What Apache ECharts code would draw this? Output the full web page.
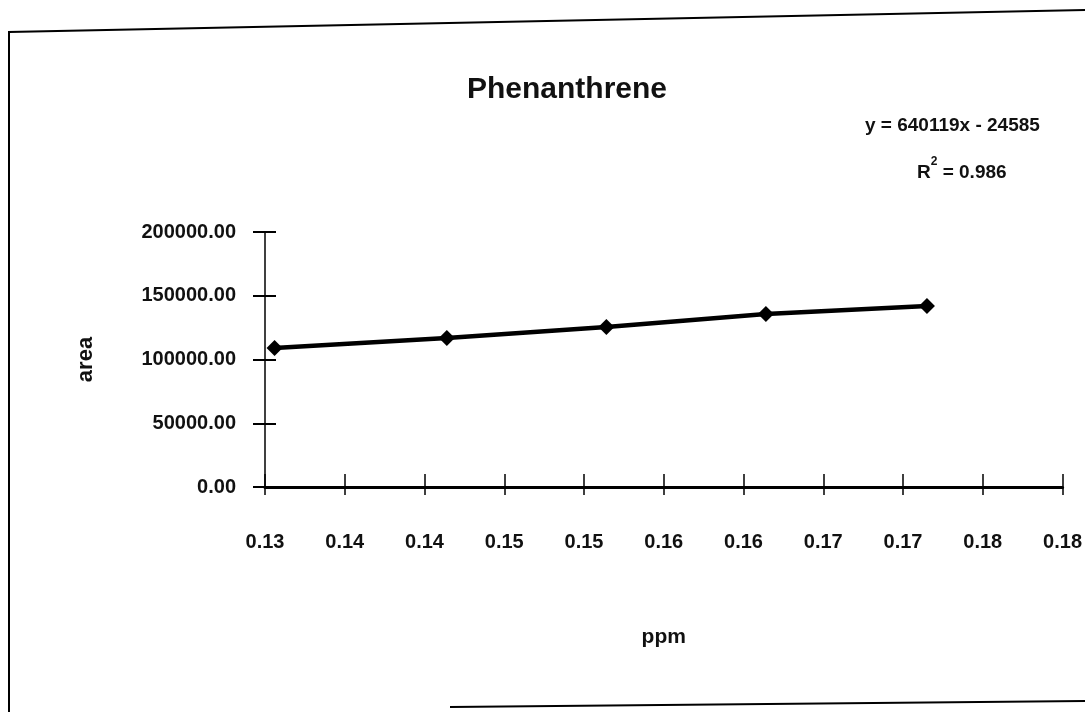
<!DOCTYPE html>
<html>
<head>
<meta charset="utf-8">
<title>Phenanthrene</title>
<script src="https://cdn.jsdelivr.net/npm/echarts@6/dist/echarts.min.js"></script>
<style>
  html, body { margin: 0; padding: 0; background: #fff; }
  #chart { width: 1085px; height: 712px; }
</style>
</head>
<body>
<div id="chart"></div>
<script>
// 数据
var ppm = [0.1306, 0.1414, 0.1514, 0.1614, 0.1715];
var area = [109000, 116900, 125500, 135700, 142000];
var xTickLabels = ['0.13', '0.14', '0.14', '0.15', '0.15', '0.16', '0.16', '0.17', '0.17', '0.18', '0.18'];
var xMin = 0.13, xMax = 0.18, xStep = 0.005;
var yMin = 0, yMax = 200000, yStep = 50000;
var equationText = 'y = 640119x - 24585';
var r2Value = '0.986';

var font = 'Liberation Sans';
var points = ppm.map(function (x, i) { return [x, area[i]]; });

var myChart = echarts.init(document.getElementById('chart'));
var option = {
    backgroundColor: '#fff',
    animation: false,
    title: {
        text: 'Phenanthrene',
        left: 462,
        top: 70,
        textStyle: { fontFamily: font, fontSize: 30, fontWeight: 'bold', color: '#111' }
    },
    grid: { left: 265, right: 22, top: 232, bottom: 225 },
    xAxis: [
        {
            type: 'value',
            min: xMin, max: xMax, interval: xStep,
            name: 'ppm',
            nameLocation: 'middle',
            nameGap: 140,
            nameTextStyle: { fontFamily: font, fontSize: 21, fontWeight: 'bold', color: '#111' },
            axisLine: { onZero: false, lineStyle: { color: '#000', width: 3 } },
            axisTick: { show: true, length: 8, lineStyle: { color: '#000', width: 1.5 } },
            axisLabel: {
                margin: 45,
                fontFamily: font, fontSize: 20, fontWeight: 'bold', color: '#111',
                formatter: function (v) {
                    return xTickLabels[Math.round((v - xMin) / xStep)];
                }
            },
            splitLine: { show: false }
        },
        {
            // 内侧刻度
            type: 'value',
            position: 'bottom',
            min: xMin, max: xMax, interval: xStep,
            axisLine: { show: false },
            axisTick: { show: true, inside: true, length: 13, lineStyle: { color: '#000', width: 1.5 } },
            axisLabel: { show: false },
            splitLine: { show: false }
        }
    ],
    yAxis: [
        {
            type: 'value',
            min: yMin, max: yMax, interval: yStep,
            name: 'area',
            nameLocation: 'middle',
            nameGap: 168,
            nameRotate: 90,
            nameTextStyle: { fontFamily: font, fontSize: 22, fontWeight: 'bold', color: '#111' },
            axisLine: { show: true, onZero: false, lineStyle: { color: '#000', width: 1.5 } },
            axisTick: { show: true, length: 12, lineStyle: { color: '#000', width: 2 } },
            axisLabel: {
                margin: 29,
                fontFamily: font, fontSize: 20, fontWeight: 'bold', color: '#111',
                formatter: function (v) { return v.toFixed(2); }
            },
            splitLine: { show: false }
        },
        {
            type: 'value',
            position: 'left',
            min: yMin, max: yMax, interval: yStep,
            axisLine: { show: false },
            axisTick: { show: true, inside: true, length: 11, lineStyle: { color: '#000', width: 2 } },
            axisLabel: { show: false },
            splitLine: { show: false }
        }
    ],
    series: [
        {
            type: 'line',
            data: points,
            symbol: 'diamond',
            symbolSize: 16,
            itemStyle: { color: '#000' },
            lineStyle: { color: '#000', width: 4.5 }
        }
    ],
    graphic: [
        {
            type: 'text',
            left: 865,
            top: 116,
            style: { text: equationText, fontFamily: font, fontSize: 19, fontWeight: 'bold', fill: '#111' }
        },
        {
            type: 'text',
            left: 917,
            top: 156,
            style: {
                text: '{b|R}{s|2}{b| = ' + r2Value + '}',
                rich: {
                    b: { fontFamily: font, fontSize: 19, fontWeight: 'bold', fill: '#111', verticalAlign: 'bottom', lineHeight: 26 },
                    s: { fontFamily: font, fontSize: 12, fontWeight: 'bold', fill: '#111', verticalAlign: 'top', lineHeight: 26 }
                }
            }
        },
        // 扫描件边框
        {
            type: 'polyline',
            shape: { points: [[9, 712], [9, 32], [1085, 10]] },
            style: { stroke: '#000', lineWidth: 2, fill: null }
        },
        {
            type: 'line',
            shape: { x1: 450, y1: 707, x2: 1085, y2: 701 },
            style: { stroke: '#000', lineWidth: 2 }
        }
    ]
};
myChart.setOption(option);
</script>
</body>
</html>
